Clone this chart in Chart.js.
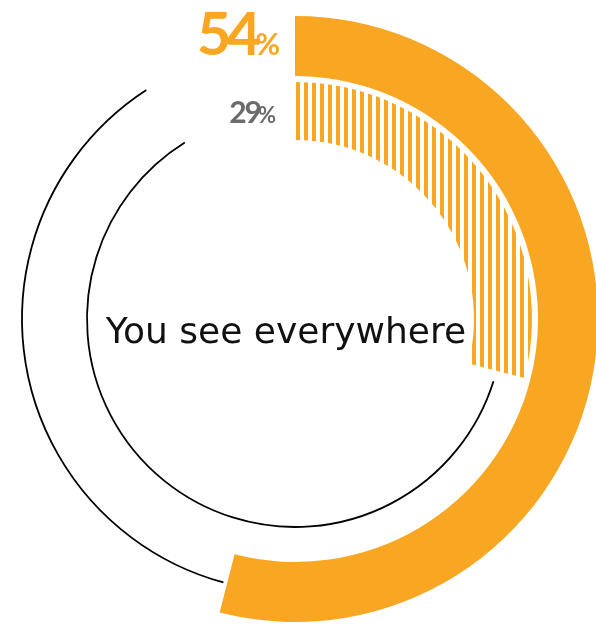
<!DOCTYPE html>
<html>
<head>
<meta charset="utf-8">
<script src="https://cdn.jsdelivr.net/npm/chart.js@4"></script>
<style>
  html, body { margin: 0; padding: 0; background: #fff; overflow: hidden; }
  body { width: 596px; height: 633px; position: relative; }
  #wrap { position: absolute; left: -8px; top: 0; width: 606px; height: 633px; }
</style>
</head>
<body>
<div id="wrap"><canvas id="ring"></canvas></div>
<script>
// two rings: share of the whole, outer vs inner
const segments    = ['Share', 'Rest'];
const outerValues = [54, 46];
const innerValues = [29, 71];
const centerText  = 'You see everywhere';

const ORANGE = '#f9a622';

// vertical stripe fill for the inner ring
function stripes(color) {
  const c = document.createElement('canvas');
  c.width = 8; c.height = 8;
  const g = c.getContext('2d');
  g.fillStyle = color;
  g.fillRect(0, 0, 4, 8);
  return g.createPattern(c, 'repeat');
}

// thin black line over the unfilled part of each ring, value label at its start
const ringDecor = {
  id: 'ringDecor',
  afterDatasetsDraw(chart) {
    const ctx = chart.ctx;
    const rings = [
      { index: 0, gapStart: 0.8, gapEnd: 33, font: 'bold 60px Lato', pctFont: 'bold 30px Lato', color: ORANGE, dx: -15, dy: 39, spacing: '-5px', tuck: 1 },
      { index: 2, gapStart: 3,   gapEnd: 32, font: 'bold 30px Lato', pctFont: 'bold 22px Lato', color: '#6b6b6b', dx: -19, dy: 41, spacing: '-2px', tuck: 2 },
    ];
    rings.forEach(r => {
      const meta = chart.getDatasetMeta(r.index);
      const rest = meta.data[1].getProps(['x', 'y', 'startAngle', 'endAngle', 'innerRadius', 'outerRadius']);
      const mid = (rest.innerRadius + rest.outerRadius) / 2;
      const rad = d => d * Math.PI / 180;
      ctx.save();
      ctx.strokeStyle = '#000';
      ctx.lineWidth = 1.8;
      ctx.beginPath();
      ctx.arc(rest.x, rest.y, mid, rest.startAngle + rad(r.gapStart), rest.endAngle - rad(r.gapEnd));
      ctx.stroke();

      // value label, tight digits with a smaller percent sign
      const first = meta.data[0].getProps(['x', 'y', 'outerRadius']);
      const value = chart.data.datasets[r.index].data[0];
      const x = first.x + r.dx;
      const y = first.y - first.outerRadius + r.dy;
      ctx.fillStyle = r.color;
      ctx.textAlign = 'right';
      ctx.textBaseline = 'alphabetic';
      ctx.font = r.pctFont;
      ctx.letterSpacing = '0px';
      ctx.fillText('%', x, y);
      const pw = ctx.measureText('%').width;
      ctx.font = r.font;
      ctx.letterSpacing = r.spacing;
      ctx.fillText(String(value), x - pw + r.tuck, y);
      ctx.restore();
    });

    // caption in the middle
    const c = chart.getDatasetMeta(0).data[0];
    ctx.save();
    ctx.fillStyle = '#111';
    ctx.font = '36px "DejaVu Sans"';
    ctx.textAlign = 'center';
    ctx.textBaseline = 'alphabetic';
    ctx.fillText(centerText, c.x - 9, c.y + 24);
    ctx.restore();
  }
};

new Chart(document.getElementById('ring'), {
  type: 'doughnut',
  data: {
    labels: segments,
    datasets: [
      { data: outerValues, backgroundColor: [ORANGE, 'rgba(0,0,0,0)'], weight: 60 },
      { data: [1], backgroundColor: ['rgba(0,0,0,0)'], weight: 6 },
      { data: innerValues, backgroundColor: [stripes(ORANGE), 'rgba(0,0,0,0)'], weight: 58 },
    ],
  },
  options: {
    responsive: true,
    maintainAspectRatio: false,
    animation: false,
    events: [],
    cutout: 179,
    borderWidth: 0,
    hoverBorderWidth: 0,
    hoverOffset: 0,
    layout: { padding: { top: 16, bottom: 11, left: 0, right: 0 } },
    plugins: { legend: { display: false }, tooltip: { enabled: false } },
  },
  plugins: [ringDecor],
});
</script>
</body>
</html>
